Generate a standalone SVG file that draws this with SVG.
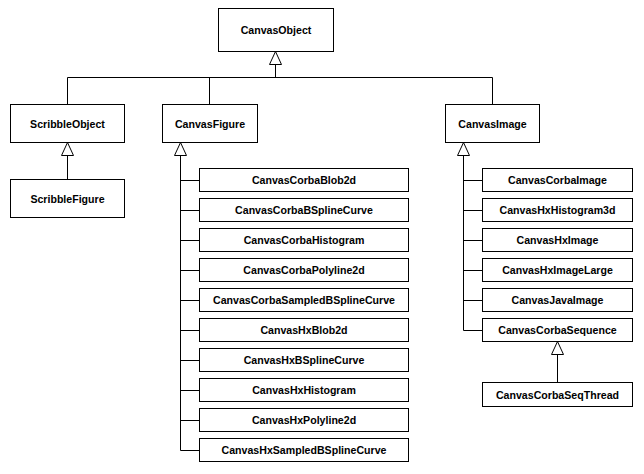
<svg xmlns="http://www.w3.org/2000/svg" width="644" height="474" viewBox="0 0 644 474">
<style>
rect{fill:#fff;stroke:#000;stroke-width:1}
text{font-family:"Liberation Sans",Arial,Helvetica,sans-serif;font-size:10.6px;font-weight:bold;text-anchor:middle;fill:#000}
.c line,.c polyline{stroke:#000;stroke-width:1;fill:none}
.c polygon{fill:#fff;stroke:#000;stroke-width:1}
</style>
<rect x="0" y="0" width="644" height="474" style="stroke:none;fill:#fff"/>
<g class="c" id="connectors">
<line x1="275.5" y1="64" x2="275.5" y2="77.5"/>
<line x1="67.5" y1="77.5" x2="492.5" y2="77.5"/>
<line x1="67.5" y1="77.5" x2="67.5" y2="104.5"/>
<line x1="209.5" y1="77.5" x2="209.5" y2="104.5"/>
<line x1="492.5" y1="77.5" x2="492.5" y2="104.5"/>
<polygon points="275.5,51.5 269.5,64.5 281.5,64.5"/>
<line x1="67.5" y1="155.5" x2="67.5" y2="179.5"/>
<polygon points="67.5,142.5 61.5,155.5 73.5,155.5"/>
<line x1="180.5" y1="155.5" x2="180.5" y2="450.5"/>
<line x1="180.5" y1="180.5" x2="199.5" y2="180.5"/>
<line x1="180.5" y1="210.5" x2="199.5" y2="210.5"/>
<line x1="180.5" y1="240.5" x2="199.5" y2="240.5"/>
<line x1="180.5" y1="270.5" x2="199.5" y2="270.5"/>
<line x1="180.5" y1="300.5" x2="199.5" y2="300.5"/>
<line x1="180.5" y1="330.5" x2="199.5" y2="330.5"/>
<line x1="180.5" y1="360.5" x2="199.5" y2="360.5"/>
<line x1="180.5" y1="390.5" x2="199.5" y2="390.5"/>
<line x1="180.5" y1="420.5" x2="199.5" y2="420.5"/>
<line x1="180.5" y1="450.5" x2="199.5" y2="450.5"/>
<polygon points="180.5,142.5 174.5,155.5 186.5,155.5"/>
<line x1="463.5" y1="155.5" x2="463.5" y2="330.5"/>
<line x1="463.5" y1="180.5" x2="482.5" y2="180.5"/>
<line x1="463.5" y1="210.5" x2="482.5" y2="210.5"/>
<line x1="463.5" y1="240.5" x2="482.5" y2="240.5"/>
<line x1="463.5" y1="270.5" x2="482.5" y2="270.5"/>
<line x1="463.5" y1="300.5" x2="482.5" y2="300.5"/>
<line x1="463.5" y1="330.5" x2="482.5" y2="330.5"/>
<polygon points="463.5,142.5 457.5,155.5 469.5,155.5"/>
<line x1="557.5" y1="354.5" x2="557.5" y2="382.5"/>
<polygon points="557.5,341.5 551.5,354.5 563.5,354.5"/>
</g>
<g id="CanvasObject"><rect x="218.5" y="8.5" width="115" height="43"/><text x="276" y="34">CanvasObject</text></g>
<g id="ScribbleObject"><rect x="10.5" y="104.5" width="114" height="38"/><text x="67.5" y="127.5">ScribbleObject</text></g>
<g id="CanvasFigure"><rect x="162.5" y="104.5" width="95" height="38"/><text x="210" y="127.5">CanvasFigure</text></g>
<g id="CanvasImage"><rect x="445.5" y="104.5" width="94" height="38"/><text x="492.5" y="127.5">CanvasImage</text></g>
<g id="ScribbleFigure"><rect x="10.5" y="179.5" width="114" height="38"/><text x="67.5" y="202.5">ScribbleFigure</text></g>
<g id="CanvasCorbaBlob2d"><rect x="199.5" y="168.5" width="209" height="23"/><text x="304" y="184">CanvasCorbaBlob2d</text></g>
<g id="CanvasCorbaBSplineCurve"><rect x="199.5" y="198.5" width="209" height="23"/><text x="304" y="214">CanvasCorbaBSplineCurve</text></g>
<g id="CanvasCorbaHistogram"><rect x="199.5" y="228.5" width="209" height="23"/><text x="304" y="244">CanvasCorbaHistogram</text></g>
<g id="CanvasCorbaPolyline2d"><rect x="199.5" y="258.5" width="209" height="23"/><text x="304" y="274">CanvasCorbaPolyline2d</text></g>
<g id="CanvasCorbaSampledBSplineCurve"><rect x="199.5" y="288.5" width="209" height="23"/><text x="304" y="304">CanvasCorbaSampledBSplineCurve</text></g>
<g id="CanvasHxBlob2d"><rect x="199.5" y="318.5" width="209" height="23"/><text x="304" y="334">CanvasHxBlob2d</text></g>
<g id="CanvasHxBSplineCurve"><rect x="199.5" y="348.5" width="209" height="23"/><text x="304" y="364">CanvasHxBSplineCurve</text></g>
<g id="CanvasHxHistogram"><rect x="199.5" y="378.5" width="209" height="23"/><text x="304" y="394">CanvasHxHistogram</text></g>
<g id="CanvasHxPolyline2d"><rect x="199.5" y="408.5" width="209" height="23"/><text x="304" y="424">CanvasHxPolyline2d</text></g>
<g id="CanvasHxSampledBSplineCurve"><rect x="199.5" y="438.5" width="209" height="23"/><text x="304" y="454">CanvasHxSampledBSplineCurve</text></g>
<g id="CanvasCorbaImage"><rect x="482.5" y="168.5" width="150" height="23"/><text x="557.5" y="184">CanvasCorbaImage</text></g>
<g id="CanvasHxHistogram3d"><rect x="482.5" y="198.5" width="150" height="23"/><text x="557.5" y="214">CanvasHxHistogram3d</text></g>
<g id="CanvasHxImage"><rect x="482.5" y="228.5" width="150" height="23"/><text x="557.5" y="244">CanvasHxImage</text></g>
<g id="CanvasHxImageLarge"><rect x="482.5" y="258.5" width="150" height="23"/><text x="557.5" y="274">CanvasHxImageLarge</text></g>
<g id="CanvasJavaImage"><rect x="482.5" y="288.5" width="150" height="23"/><text x="557.5" y="304">CanvasJavaImage</text></g>
<g id="CanvasCorbaSequence"><rect x="482.5" y="318.5" width="150" height="23"/><text x="557.5" y="334">CanvasCorbaSequence</text></g>
<g id="CanvasCorbaSeqThread"><rect x="482.5" y="382.5" width="150" height="24"/><text x="557.5" y="398.5">CanvasCorbaSeqThread</text></g>
</svg>
